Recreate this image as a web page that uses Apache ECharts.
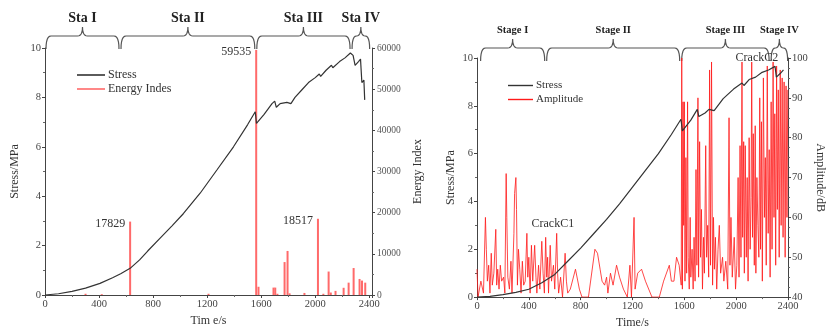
<!DOCTYPE html>
<html><head><meta charset="utf-8">
<script src="https://cdn.jsdelivr.net/npm/echarts@6/dist/echarts.min.js"></script>
<style>html,body{margin:0;padding:0;background:#fff}#c{width:827px;height:334px}</style>
</head><body><div id="c"></div>
<script>
// ---------- Left panel: stress vs time ----------
const leftStressT = [0,100,200,300,407,500,560,630,700,760,852,940,1025,1148,1272,1395,1500,1556,1565,1620,1680,1700,1712,1740,1790,1820,1850,1900,1950,2000,2030,2040,2080,2120,2130,2180,2220,2260,2280,2295,2320,2335,2345,2360,2366];
const leftStressV = [0,0.05,0.15,0.28,0.47,0.7,0.86,1.08,1.42,1.78,2.3,2.8,3.3,4.12,5.06,6.0,6.9,7.42,6.95,7.3,7.75,7.85,7.6,7.75,7.8,7.75,8.0,8.3,8.6,8.8,8.95,8.85,9.1,9.3,9.2,9.45,9.6,9.8,9.7,9.3,9.45,9.55,8.6,8.7,7.9];
// Energy index bars
const energyT = [300,420,630,1210,1563,1580,1691,1704,1720,1773,1795,1810,1920,2020,2060,2099,2115,2150,2210,2247,2284,2328,2346,2370];
const energyV = [300,200,17829,300,59535,2000,1800,1800,300,8000,10700,400,500,18517,300,5700,600,1000,1750,3000,6550,3900,3500,3000];
const energyLabelled = [17829,59535,18517];
const leftStageNames = ['Sta I','Sta II','Sta III','Sta IV'];
const leftStageBounds = [0,555,1560,2265,2410];

// ---------- Right panel ----------
const rightStressT = [0,100,200,300,400,500,600,700,800,900,1000,1100,1200,1300,1400,1500,1574,1585,1650,1700,1712,1760,1790,1830,1900,1980,2045,2060,2100,2150,2200,2250,2300,2310,2340,2365];
const rightStressV = [0,0.03,0.1,0.2,0.33,0.6,0.95,1.5,2.05,2.65,3.25,3.9,4.6,5.3,6.0,6.8,7.44,6.95,7.4,7.85,7.55,7.7,7.85,7.8,8.3,8.7,8.95,8.85,9.1,9.2,9.4,9.5,9.65,9.2,9.35,9.5];
const ampT = [0,8,30,50,65,72,80,90,100,110,118,130,145,152,160,170,180,190,205,215,225,230,238,250,262,270,285,290,300,305,312,320,330,340,350,360,372,385,392,400,410,420,430,445,455,462,475,485,500,510,520,530,538,545,552,565,575,590,600,615,622,630,645,660,680,690,700,720,760,790,810,860,910,930,950,965,985,1000,1010,1030,1050,1077,1100,1130,1160,1180,1192,1212,1220,1240,1270,1300,1350,1407,1440,1484,1500,1520,1540,1560,1576,
1580,1585,1590,1595,1600,1605,1612,1618,1625,1630,1638,1645,1650,1660,1668,1675,1683,1690,1697,1705,1710,1718,1725,1732,1740,1748,1755,1765,1772,1780,1788,1795,1802,1810,1818,1825,1832,1840,1850,1860,1870,1880,1895,1905,1920,1935,1945,1952,1960,1970,1985,1995,2005,2015,2022,2030,2037,2045,2050,2058,2063,2070,2078,2085,2092,2100,2108,2115,2120,2126,2132,2140,2147,2152,2160,2168,2175,2182,2188,2195,2202,2210,2218,2225,2232,2240,2247,2255,2262,2270,2277,2285,2292,2298,2305,2312,2318,2325,2332,2340,2347,2355,2362,2370,2378,2385,2392,2398];
const ampV = [47,40,44,41,60,52,44,48,41,51,43,46,57,43,47,42,48,44,45,41,71,60,45,42,49,41,56,66,70,62,43,52,47,41,49,43,44,56,45,50,41,53,44,53,45,41,48,42,54,46,41,55,45,50,41,53,44,48,42,56,46,41,45,40,51,44,41,42,47,42,40,40,52,51,47,44,43,45,41,46,43,48,45,42,40,48,40,60,42,46,47,44,40,40,44,48,44,44,50,48,43,
100,42,89,58,89,44,75,46,89,50,42,60,45,52,42,55,44,72,48,90,45,79,50,62,42,55,46,78,50,58,45,97,48,99,43,60,47,55,42,52,58,46,50,44,49,42,85,48,60,45,55,42,48,70,45,78,50,99,55,79,46,78,50,70,44,80,52,65,99,55,81,48,83,46,70,58,50,90,52,84,44,95,60,75,48,98,56,77,45,89,52,99,60,86,48,98,62,92,50,97,58,95,55,94,50,93,60,92];
const rightStageNames = ['Stage I','Stage II','Stage III','Stage IV'];
const rightStageBounds = [20,530,1572,2262,2405];
const crackNotes = [{text:'CrackC1', t:585, s:3.05}, {text:'CrackC2', t:2160, s:10.0}];

const FONT = 'Liberation Serif';
const zip = (a,b) => a.map((v,i)=>[v,b[i]]);

function valAxis(extra){
  return Object.assign({
    type:'value', splitLine:{show:false},
    axisLine:{show:true, onZero:false, lineStyle:{color:'#444', width:1}},
    axisTick:{show:true, length:3, lineStyle:{color:'#444'}},
    minorTick:{show:true, length:2, splitNumber:2, lineStyle:{color:'#666'}},
    axisLabel:{fontFamily:FONT, fontSize:10.5, color:'#444', margin:4, formatter: v => String(v)},
    nameTextStyle:{fontFamily:FONT, fontSize:12, color:'#333'},
    nameLocation:'middle'
  }, extra);
}

const chart = echarts.init(document.getElementById('c'), null, {renderer:'canvas'});
const option = {
  animation:false,
  backgroundColor:'#fff',
  grid:[
    {left:45, right:455, top:48, bottom:39},
    {left:477, right:37, top:58, bottom:34}
  ],
  xAxis:[
    valAxis({gridIndex:0, min:0, max:2420, interval:400, name:'Tim e/s', nameGap:20,
      axisLabel:{fontFamily:FONT, fontSize:10.5, color:'#444', margin:4, showMaxLabel:false, formatter:v=> v%400===0?String(v):''}}),
    valAxis({gridIndex:1, min:0, max:2400, interval:400, name:'Time/s', nameGap:18})
  ],
  yAxis:[
    valAxis({gridIndex:0, min:0, max:10, interval:2, name:'Stress/MPa', nameGap:24, nameRotate:90}),
    valAxis({gridIndex:0, position:'right', min:0, max:60000, interval:10000, name:'Energy Index', nameGap:40, nameRotate:90,
      axisLabel:{fontFamily:FONT, fontSize:9.5, color:'#555', margin:5, formatter: v => String(v)}}),
    valAxis({gridIndex:1, min:0, max:10, interval:2, name:'Stress/MPa', nameGap:20, nameRotate:90}),
    valAxis({gridIndex:1, position:'right', min:40, max:100, interval:10, name:'Amplitude/dB', nameGap:26, nameRotate:-90,
      minorTick:{show:true, length:2, splitNumber:4, lineStyle:{color:'#666'}}})
  ],
  legend:[
    {left:72, top:64, orient:'vertical', icon:'rect', itemWidth:28, itemHeight:1.6, itemGap:2,
     data:['Stress','Energy Indes'], textStyle:{fontFamily:FONT, fontSize:12, color:'#333', padding:[0,0,0,-2]}},
    {left:503, top:75, orient:'vertical', icon:'rect', itemWidth:25, itemHeight:1.4, itemGap:3,
     data:['Stress ','Amplitude'], textStyle:{fontFamily:FONT, fontSize:11, color:'#333', padding:[0,0,0,-2]}}
  ],
  series:[
    {name:'Energy Indes', type:'bar', xAxisIndex:0, yAxisIndex:1, barWidth:2, z:2,
     itemStyle:{color:'#ff6a6a'},
     data: zip(energyT, energyV).map(d => energyLabelled.includes(d[1]) ?
        {value:d, label:{show:true, position:[-4,-4], align:'right', verticalAlign:'top', formatter:String(d[1]),
         fontFamily:FONT, fontSize:12, color:'#333'}} : {value:d})},
    {name:'Stress', type:'line', xAxisIndex:0, yAxisIndex:0, showSymbol:false, symbol:'none', z:3,
     lineStyle:{color:'#333', width:1.2}, itemStyle:{color:'#333'}, data: zip(leftStressT, leftStressV)},
    {name:'Amplitude', type:'line', xAxisIndex:1, yAxisIndex:3, showSymbol:false, symbol:'none', z:2,
     lineStyle:{color:'#ff1a1a', width:1, opacity:0.8}, itemStyle:{color:'#ff1a1a'}, data: zip(ampT, ampV)},
    {name:'Stress ', type:'line', xAxisIndex:1, yAxisIndex:2, showSymbol:false, symbol:'none', z:3,
     lineStyle:{color:'#333', width:1.2}, itemStyle:{color:'#333'}, data: zip(rightStressT, rightStressV)}
  ]
};
chart.setOption(option);

// quadratic bezier sampling for the curly braces
function quad(p0, c, p1, n, out){
  for (let k=1;k<=n;k++){
    const s = k/n, a = (1-s)*(1-s), b = 2*(1-s)*s, d = s*s;
    out.push([a*p0[0]+b*c[0]+d*p1[0], a*p0[1]+b*c[1]+d*p1[1]]);
  }
}
function bracePoints(x1, x2, y0, h, tip){
  const xm = (x1+x2)/2, r = Math.min(5, (x2-x1)/4);
  const pts = [[x1, y0+h]];
  quad([x1,y0+h],[x1,y0],[x1+r,y0],6,pts);
  pts.push([xm-r, y0]);
  quad([xm-r,y0],[xm,y0],[xm,y0-tip],6,pts);
  quad([xm,y0-tip],[xm,y0],[xm+r,y0],6,pts);
  pts.push([x2-r, y0]);
  quad([x2-r,y0],[x2,y0],[x2,y0+h],6,pts);
  return pts;
}
const graphics = [];
function addBraces(gridIndex, bounds, names, topY, fontSize){
  for (let i=0;i<names.length;i++){
    const x1 = chart.convertToPixel({gridIndex}, [bounds[i], 0])[0];
    const x2 = chart.convertToPixel({gridIndex}, [bounds[i+1], 0])[0];
    graphics.push({type:'polyline', shape:{points: bracePoints(x1+1, x2-1, topY, 13, 9)},
      style:{fill:null, stroke:'#555', lineWidth:1.2}});
    graphics.push({type:'text', x:(x1+x2)/2, y:topY-18, style:{text:names[i], fontFamily:FONT, fontWeight:'bold',
      fontSize, fill:'#222', align:'center', verticalAlign:'middle'}});
  }
}
addBraces(0, leftStageBounds, leftStageNames, 36, 14);
addBraces(1, rightStageBounds, rightStageNames, 48, 10.5);
crackNotes.forEach(c => {
  const p = chart.convertToPixel({gridIndex:1}, [c.t, c.s]);
  graphics.push({type:'text', x:p[0], y:p[1], z:10, style:{text:c.text, fontFamily:FONT, fontSize:12, fill:'#333', align:'center', verticalAlign:'middle'}});
});
chart.setOption({graphic: graphics});
</script></body></html>
